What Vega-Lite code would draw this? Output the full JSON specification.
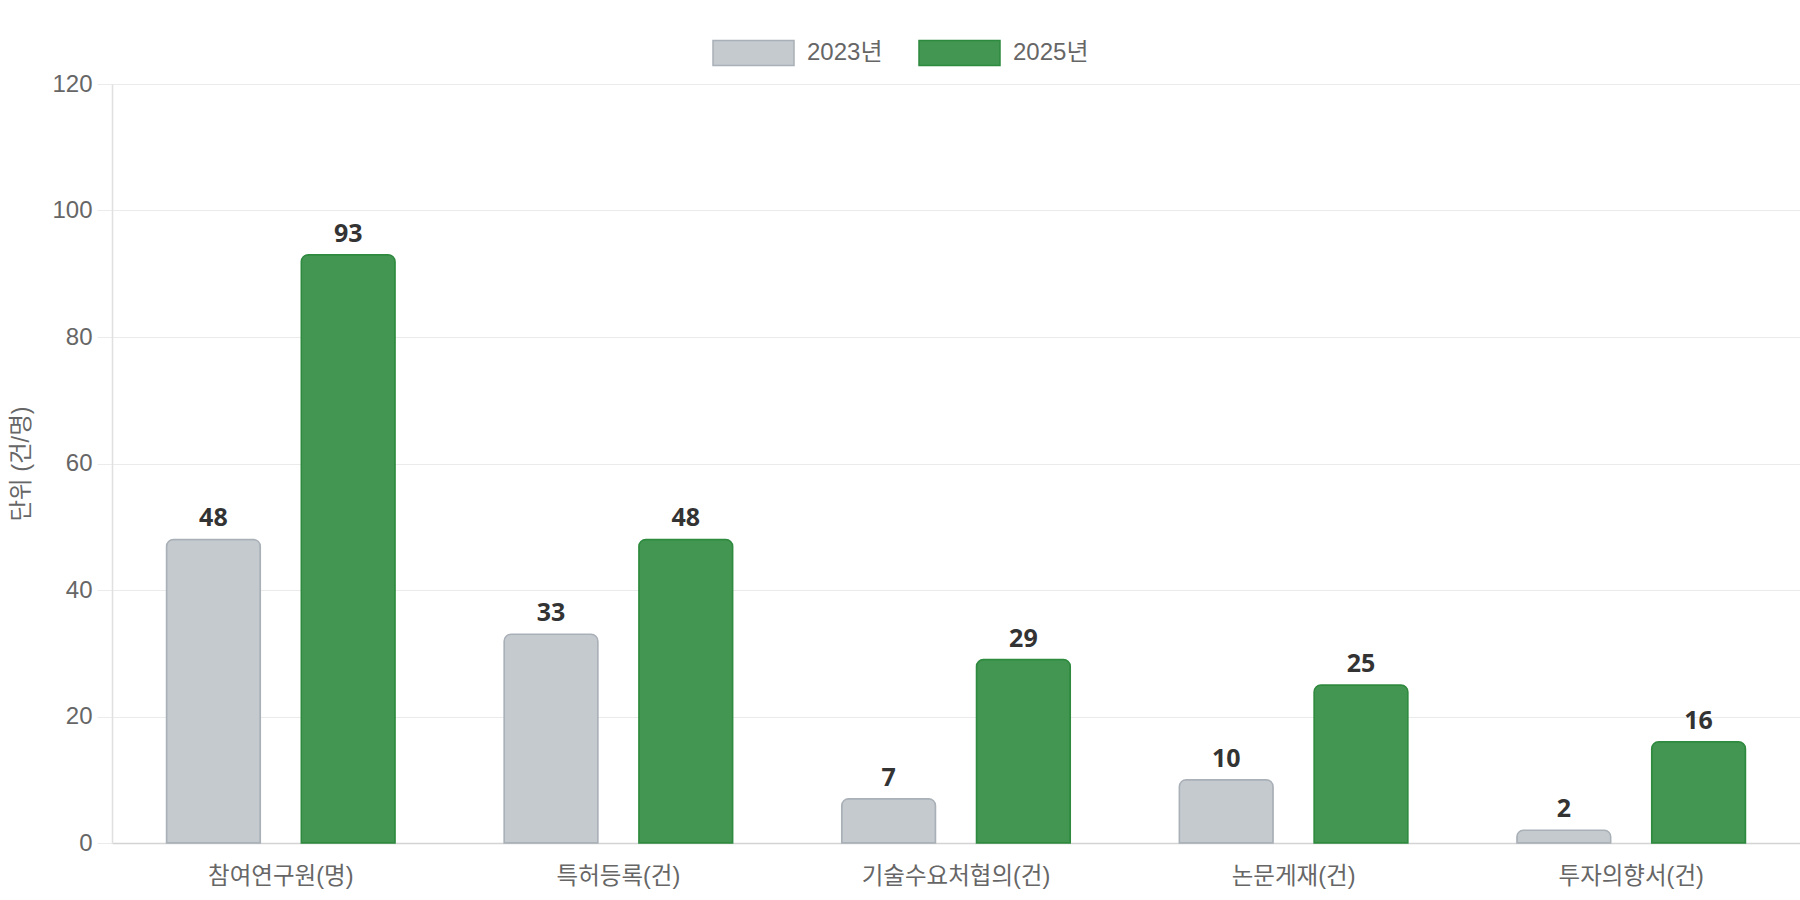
{
  "$schema": "https://vega.github.io/schema/vega-lite/v6.json",
  "autosize": {"type": "none"},
  "width": 1688,
  "height": 759,
  "padding": {"left": 112, "top": 84, "right": 0, "bottom": 57},
  "background": "#ffffff",
  "config": {
    "view": {"stroke": null},
    "font": "Liberation Sans, Noto Sans CJK KR",
    "axis": {"labelFont": "Liberation Sans, Noto Sans CJK KR", "titleFont": "Liberation Sans, Noto Sans CJK KR"},
    "legend": {"labelFont": "Liberation Sans, Noto Sans CJK KR"}
  },
  "data": {
    "values": [
      {"category": "참여연구원(명)", "year": "2023년", "value": 48},
      {"category": "참여연구원(명)", "year": "2025년", "value": 93},
      {"category": "특허등록(건)", "year": "2023년", "value": 33},
      {"category": "특허등록(건)", "year": "2025년", "value": 48},
      {"category": "기술수요처협의(건)", "year": "2023년", "value": 7},
      {"category": "기술수요처협의(건)", "year": "2025년", "value": 29},
      {"category": "논문게재(건)", "year": "2023년", "value": 10},
      {"category": "논문게재(건)", "year": "2025년", "value": 25},
      {"category": "투자의향서(건)", "year": "2023년", "value": 2},
      {"category": "투자의향서(건)", "year": "2025년", "value": 16}
    ]
  },
  "encoding": {
    "x": {
      "field": "category",
      "type": "nominal",
      "sort": null,
      "scale": {"paddingInner": 0.323, "paddingOuter": 0.1615},
      "axis": {
        "title": null,
        "labelAngle": 0,
        "labelFontSize": 23.5,
        "labelColor": "#666666",
        "labelPadding": 21,
        "labelLimit": 0,
        "ticks": false,
        "grid": false,
        "domainColor": "#d4d4d4",
        "domainWidth": 1.5
      }
    },
    "xOffset": {
      "field": "year",
      "type": "nominal",
      "sort": ["2023년", "2025년"],
      "scale": {"paddingInner": 0.304, "paddingOuter": 0}
    },
    "y": {
      "field": "value",
      "type": "quantitative",
      "scale": {"domain": [0, 120]},
      "axis": {
        "title": "단위 (건/명)",
        "titleFontSize": 23.5,
        "titleFontWeight": "normal",
        "titleColor": "#666666",
        "titlePadding": 18,
        "values": [0, 20, 40, 60, 80, 100, 120],
        "labelFontSize": 24,
        "labelColor": "#666666",
        "labelPadding": 5,
        "tickSize": 15,
        "tickColor": "#ebebeb",
        "gridColor": "#ebebeb",
        "domainColor": "#e0e0e0",
        "domainWidth": 1.5
      }
    }
  },
  "layer": [
    {
      "mark": {
        "type": "bar",
        "strokeWidth": 1.5,
        "cornerRadiusTopLeft": 7,
        "cornerRadiusTopRight": 7
      },
      "encoding": {
        "fill": {
          "field": "year",
          "type": "nominal",
          "scale": {"domain": ["2023년", "2025년"], "range": ["#c5cacf", "#429652"]},
          "legend": {
            "title": null,
            "orient": "none",
            "direction": "horizontal",
            "legendX": 600,
            "legendY": -73,
            "symbolType": "M-1,-0.31H1V0.31H-1Z",
            "symbolSize": 6561,
            "symbolStrokeWidth": 1.5,
            "labelFontSize": 24,
            "labelColor": "#666666",
            "labelOffset": 12,
            "columnPadding": 33
          }
        },
        "stroke": {
          "field": "year",
          "type": "nominal",
          "scale": {"domain": ["2023년", "2025년"], "range": ["#a9b0b7", "#2e8a3e"]}
        }
      }
    },
    {
      "mark": {
        "type": "text",
        "baseline": "alphabetic",
        "dy": -13,
        "font": "Noto Sans",
        "fontWeight": "bold",
        "fontSize": 25,
        "color": "#333333"
      },
      "encoding": {
        "text": {"field": "value", "type": "quantitative"}
      }
    }
  ]
}
